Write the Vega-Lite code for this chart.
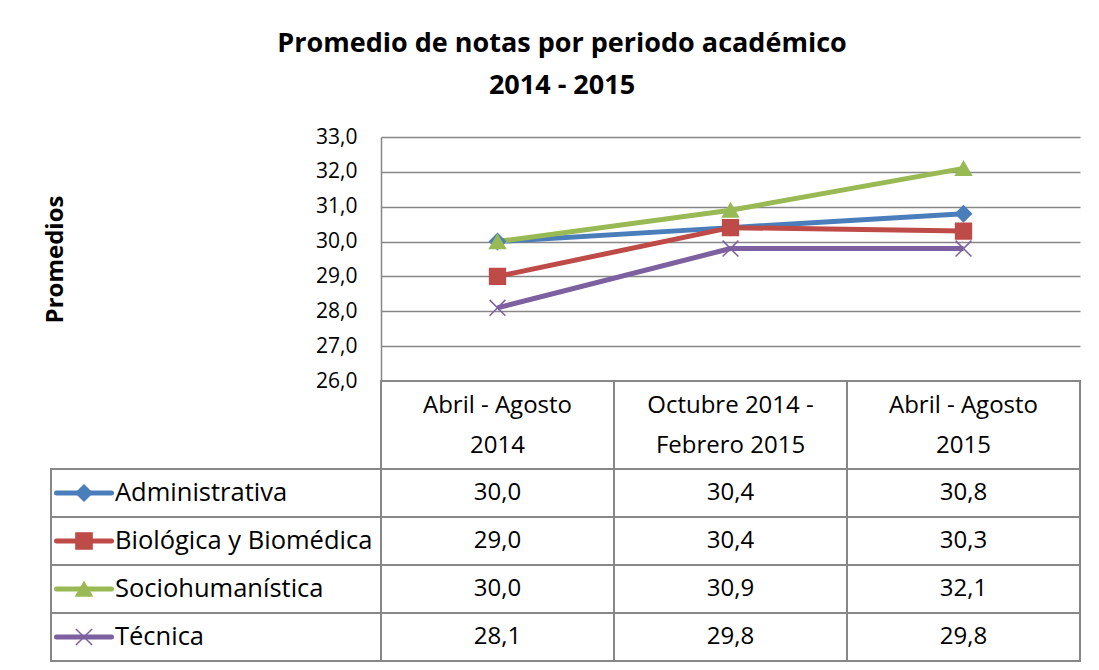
{
  "$schema": "https://vega.github.io/schema/vega-lite/v6.json",
  "autosize": {"type": "pad"},
  "padding": {"left": 43, "top": 30, "right": 19, "bottom": 6},
  "background": "white",
  "title": {
    "text": ["Promedio de notas por periodo académico", "2014 - 2015"],
    "font": "Open Sans",
    "fontSize": 27,
    "fontWeight": "bold",
    "color": "#000000",
    "lineHeight": 42,
    "anchor": "middle",
    "frame": "bounds",
    "offset": 26
  },
  "datasets": {
    "notas": [
      {"periodo": "Abril - Agosto\n2014", "area": "Administrativa", "promedio": 30.0},
      {"periodo": "Octubre 2014 -\nFebrero 2015", "area": "Administrativa", "promedio": 30.4},
      {"periodo": "Abril - Agosto\n2015", "area": "Administrativa", "promedio": 30.8},
      {"periodo": "Abril - Agosto\n2014", "area": "Biológica y Biomédica", "promedio": 29.0},
      {"periodo": "Octubre 2014 -\nFebrero 2015", "area": "Biológica y Biomédica", "promedio": 30.4},
      {"periodo": "Abril - Agosto\n2015", "area": "Biológica y Biomédica", "promedio": 30.3},
      {"periodo": "Abril - Agosto\n2014", "area": "Sociohumanística", "promedio": 30.0},
      {"periodo": "Octubre 2014 -\nFebrero 2015", "area": "Sociohumanística", "promedio": 30.9},
      {"periodo": "Abril - Agosto\n2015", "area": "Sociohumanística", "promedio": 32.1},
      {"periodo": "Abril - Agosto\n2014", "area": "Técnica", "promedio": 28.1},
      {"periodo": "Octubre 2014 -\nFebrero 2015", "area": "Técnica", "promedio": 29.8},
      {"periodo": "Abril - Agosto\n2015", "area": "Técnica", "promedio": 29.8}
    ]
  },
  "columns": 2,
  "spacing": 0,
  "bounds": "flush",
  "resolve": {"scale": {"x": "independent", "y": "independent"}},
  "concat": [
    {
      "width": 330,
      "height": 244,
      "data": {"values": []},
      "mark": {"type": "point", "opacity": 0}
    },
    {
      "width": 699,
      "height": 244,
      "data": {"name": "notas"},
      "encoding": {
        "x": {
          "field": "periodo",
          "type": "nominal",
          "sort": ["Abril - Agosto\n2014", "Octubre 2014 -\nFebrero 2015", "Abril - Agosto\n2015"],
          "axis": null
        },
        "y": {
          "field": "promedio",
          "type": "quantitative",
          "scale": {"domain": [26, 33], "zero": false, "nice": false},
          "axis": {
            "values": [26, 27, 28, 29, 30, 31, 32, 33],
            "format": ".1f",
            "title": "Promedios",
            "grid": true,
            "gridColor": "#878787",
            "gridWidth": 1.5,
            "domainColor": "#878787",
            "domainWidth": 1.5,
            "ticks": false,
            "tickSize": 0,
            "labelPadding": 24,
            "labelFontSize": 21,
            "labelColor": "#000000",
            "labelFont": "Open Sans",
            "titleFont": "Open Sans",
            "titleFontSize": 24,
            "titleFontWeight": "bold",
            "titleColor": "#000000",
            "titlePadding": 249,
            "minExtent": 65,
            "maxExtent": 65
          }
        },
        "color": {
          "field": "area",
          "type": "nominal",
          "scale": {
            "domain": ["Administrativa", "Biológica y Biomédica", "Sociohumanística", "Técnica"],
            "range": ["#4A7EBB", "#BE4B48", "#98B954", "#7D60A0"]
          },
          "legend": null
        }
      },
      "layer": [
        {"mark": {"type": "line", "strokeWidth": 5, "strokeJoin": "round"}},
        {
          "mark": {"type": "point", "filled": true, "opacity": 1, "size": 250, "strokeWidth": 1.5},
          "encoding": {
            "stroke": {
              "field": "area",
              "type": "nominal",
              "scale": {
                "domain": ["Administrativa", "Biológica y Biomédica", "Sociohumanística", "Técnica"],
                "range": ["#4A7EBB", "#BE4B48", "#98B954", "#7D60A0"]
              },
              "legend": null
            },
            "shape": {
              "field": "area",
              "type": "nominal",
              "scale": {
                "domain": ["Administrativa", "Biológica y Biomédica", "Sociohumanística", "Técnica"],
                "range": ["diamond", "square", "triangle-up", "M-1,-1L1,1M-1,1L1,-1"]
              },
              "legend": null
            }
          }
        }
      ]
    },
    {
      "width": 330,
      "height": 88,
      "data": {"values": []},
      "mark": {"type": "point", "opacity": 0}
    },
    {
      "width": 699,
      "height": 88,
      "data": {"name": "notas"},
      "transform": [{"aggregate": [], "groupby": ["periodo"]}],
      "encoding": {
        "x": {
          "field": "periodo",
          "type": "nominal",
          "sort": ["Abril - Agosto\n2014", "Octubre 2014 -\nFebrero 2015", "Abril - Agosto\n2015"],
          "scale": {"paddingInner": 0, "paddingOuter": 0},
          "axis": null
        }
      },
      "layer": [
        {"mark": {"type": "rect", "fill": "white", "stroke": "#878787", "strokeWidth": 2}},
        {
          "mark": {"type": "text", "lineBreak": "\n", "font": "Open Sans", "fontSize": 24, "lineHeight": 40, "baseline": "middle", "dy": -19, "color": "#000000"},
          "encoding": {"text": {"field": "periodo"}}
        }
      ]
    },
    {
      "width": 330,
      "height": 192,
      "data": {"name": "notas"},
      "transform": [{"aggregate": [], "groupby": ["area"]}],
      "encoding": {
        "y": {
          "field": "area",
          "type": "nominal",
          "sort": ["Administrativa", "Biológica y Biomédica", "Sociohumanística", "Técnica"],
          "scale": {"paddingInner": 0, "paddingOuter": 0},
          "axis": null
        }
      },
      "layer": [
        {"mark": {"type": "rect", "fill": "white", "stroke": "#878787", "strokeWidth": 2}},
        {
          "mark": {"type": "point", "shape": "stroke", "size": 3025, "strokeWidth": 5, "strokeCap": "round", "filled": false, "opacity": 1, "xOffset": -132},
          "encoding": {
            "color": {
              "field": "area",
              "type": "nominal",
              "scale": {
                "domain": ["Administrativa", "Biológica y Biomédica", "Sociohumanística", "Técnica"],
                "range": ["#4A7EBB", "#BE4B48", "#98B954", "#7D60A0"]
              },
              "legend": null
            }
          }
        },
        {
          "mark": {"type": "point", "filled": true, "opacity": 1, "size": 260, "strokeWidth": 1.5, "xOffset": -132},
          "encoding": {
            "color": {
              "field": "area",
              "type": "nominal",
              "scale": {
                "domain": ["Administrativa", "Biológica y Biomédica", "Sociohumanística", "Técnica"],
                "range": ["#4A7EBB", "#BE4B48", "#98B954", "#7D60A0"]
              },
              "legend": null
            },
            "stroke": {
              "field": "area",
              "type": "nominal",
              "scale": {
                "domain": ["Administrativa", "Biológica y Biomédica", "Sociohumanística", "Técnica"],
                "range": ["#4A7EBB", "#BE4B48", "#98B954", "#7D60A0"]
              },
              "legend": null
            },
            "shape": {
              "field": "area",
              "type": "nominal",
              "scale": {
                "domain": ["Administrativa", "Biológica y Biomédica", "Sociohumanística", "Técnica"],
                "range": ["diamond", "square", "triangle-up", "M-1,-1L1,1M-1,1L1,-1"]
              },
              "legend": null
            }
          }
        },
        {
          "mark": {"type": "text", "align": "left", "baseline": "middle", "font": "Open Sans", "fontSize": 25.5, "color": "#000000", "xOffset": -101},
          "encoding": {"text": {"field": "area"}}
        }
      ]
    },
    {
      "width": 699,
      "height": 192,
      "data": {"name": "notas"},
      "encoding": {
        "x": {
          "field": "periodo",
          "type": "nominal",
          "sort": ["Abril - Agosto\n2014", "Octubre 2014 -\nFebrero 2015", "Abril - Agosto\n2015"],
          "scale": {"paddingInner": 0, "paddingOuter": 0},
          "axis": null
        },
        "y": {
          "field": "area",
          "type": "nominal",
          "sort": ["Administrativa", "Biológica y Biomédica", "Sociohumanística", "Técnica"],
          "scale": {"paddingInner": 0, "paddingOuter": 0},
          "axis": null
        }
      },
      "layer": [
        {"mark": {"type": "rect", "fill": "white", "stroke": "#878787", "strokeWidth": 2}},
        {
          "mark": {"type": "text", "baseline": "middle", "font": "Open Sans", "fontSize": 24, "color": "#000000"},
          "encoding": {"text": {"field": "promedio", "type": "quantitative", "format": ".1f"}}
        }
      ]
    }
  ],
  "config": {
    "font": "Open Sans",
    "view": {"stroke": null},
    "locale": {
      "number": {"decimal": ",", "thousands": ".", "grouping": [3], "currency": ["", " €"]}
    }
  }
}
